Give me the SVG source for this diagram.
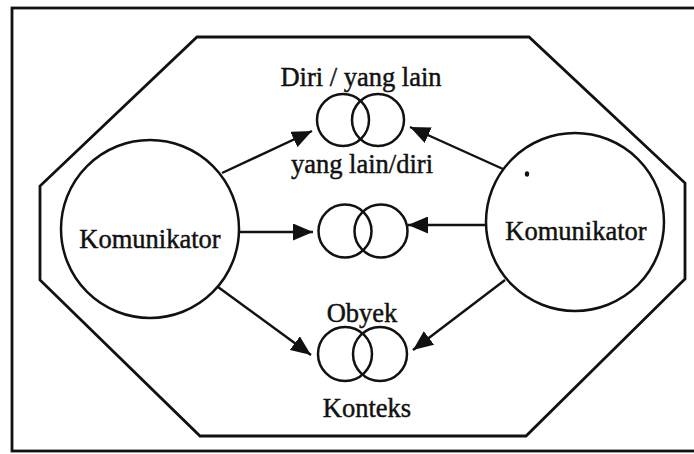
<svg xmlns="http://www.w3.org/2000/svg" width="694" height="454" viewBox="0 0 694 454">
  <style>
    .frame { fill: none; stroke: #111; stroke-width: 2.8; }
    .ring { fill: none; stroke: #111; stroke-width: 2.5; }
    .link { fill: none; stroke: #111; stroke-width: 2.4; }
    .label { font-family: "Liberation Serif", "Times New Roman", serif; font-size: 26.5px; fill: #111; stroke: #111; stroke-width: 0.45; text-anchor: middle; }
  </style>
  <defs>
    <marker id="arrow" markerUnits="userSpaceOnUse" markerWidth="21" markerHeight="17" refX="20" refY="8.5" orient="auto">
      <path d="M0,0 L20,8.5 L0,17 Z" fill="#111"/>
    </marker>
  </defs>
  <rect width="694" height="454" fill="#fff"/>

  <!-- outer border and octagonal field -->
  <rect class="frame" x="12" y="8" width="700" height="443"/>
  <polygon class="frame" points="197,37 529,37 685,183 685,279 526,436 200,436 40,280 40,186"/>

  <!-- communicators -->
  <g id="komunikator-kiri">
    <circle class="ring" cx="150" cy="229" r="89"/>
    <text class="label" x="150" y="248">Komunikator</text>
  </g>
  <g id="komunikator-kanan">
    <circle class="ring" cx="575" cy="222" r="89"/>
    <text class="label" x="576" y="240">Komunikator</text>
  </g>

  <!-- shared meaning pairs -->
  <g id="diri-yang-lain">
    <text class="label" x="361" y="86">Diri / yang lain</text>
    <circle class="ring" cx="343" cy="120" r="26"/>
    <circle class="ring" cx="378" cy="120" r="26"/>
  </g>
  <g id="yang-lain-diri">
    <text class="label" x="362" y="173">yang lain/diri</text>
    <circle class="ring" cx="345" cy="231" r="26.5"/>
    <circle class="ring" cx="381" cy="231" r="26.5"/>
  </g>
  <g id="obyek-konteks">
    <text class="label" x="362" y="322">Obyek</text>
    <circle class="ring" cx="345" cy="354" r="27"/>
    <circle class="ring" cx="380" cy="354" r="27"/>
    <text class="label" x="367" y="417">Konteks</text>
  </g>

  <!-- connectors -->
  <g id="connectors">
    <line class="link" x1="222" y1="173" x2="312" y2="131" marker-end="url(#arrow)"/>
    <line class="link" x1="238" y1="232" x2="313" y2="232" marker-end="url(#arrow)"/>
    <line class="link" x1="218" y1="287" x2="311" y2="355" marker-end="url(#arrow)"/>
    <line class="link" x1="503" y1="169" x2="410" y2="127" marker-end="url(#arrow)"/>
    <line class="link" x1="487" y1="225" x2="408" y2="225" marker-end="url(#arrow)"/>
    <line class="link" x1="505" y1="280" x2="413" y2="350" marker-end="url(#arrow)"/>
  </g>

  <!-- ink speck -->
  <ellipse cx="527" cy="174" rx="2.2" ry="2.8" fill="#111"/>
</svg>
